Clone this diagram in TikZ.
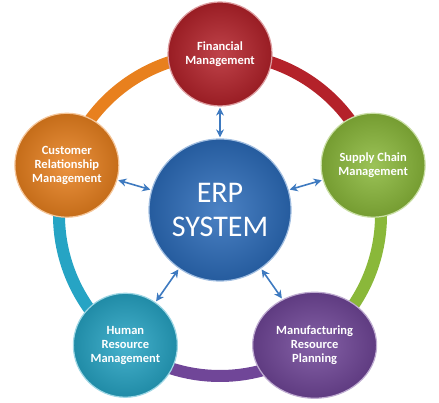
\documentclass[tikz,border=0pt]{standalone}
\usepackage{fontspec}
\setmainfont{Carlito}
\usetikzlibrary{positioning,shapes,arrows.meta}
\definecolor{finred}{RGB}{180,34,42}
\definecolor{supgreen}{RGB}{138,184,58}
\definecolor{mrppurple}{RGB}{112,70,152}
\definecolor{hrteal}{RGB}{38,164,196}
\definecolor{crmorange}{RGB}{232,128,30}
\definecolor{erpblue}{RGB}{44,108,186}
\definecolor{linkblue}{RGB}{62,122,192}

\begin{document}
\begin{tikzpicture}[x=1pt,y=1pt]
\tikzstyle{every node}+=[inner sep=0pt]
\tikzstyle{ring}=[line width=12pt, draw=#1]
\tikzstyle{bubble}=[circle, minimum size=104pt, shading=radial, inner color=#1!85!white, outer color=#1!85!black, draw=#1!45!white, line width=1.2pt, text=white, align=center, font=\bfseries\fontsize{12.5}{14}\selectfont]
\tikzstyle{link}=[{Stealth[length=8pt,width=8pt,inset=2.5pt]}-{Stealth[length=8pt,width=8pt,inset=2.5pt]}, draw=linkblue, line width=1.6pt, shorten >=1pt, shorten <=1pt]
\useasboundingbox (0,0) rectangle (439,403);
\coordinate (c) at (220,188);
\draw[ring=finred] (c) ++(90:161) arc (90:18:161);
\draw[ring=supgreen] (c) ++(18:161) arc (18:-54:161);
\draw[ring=mrppurple] (c) ++(-54:161) arc (-54:-126:161);
\draw[ring=hrteal] (c) ++(-126:161) arc (-126:-198:161);
\draw[ring=crmorange] (c) ++(162:161) arc (162:90:161);
\node[bubble=finred] (fin) at ([shift={(90:161)}]c) {Financial\\Management};
\node[bubble=supgreen] (sup) at ([shift={(18:161)}]c) {Supply Chain\\Management};
\node[bubble=mrppurple, ellipse, minimum width=124pt, minimum height=106pt] (mrp) at ([shift={(-54:161)}]c) {Manufacturing\\Resource\\Planning};
\node[bubble=hrteal] (hr) at ([shift={(-126:161)}]c) {Human\\Resource\\Management};
\node[bubble=crmorange] (crm) at ([shift={(162:161)}]c) {Customer\\Relationship\\Management};
\node[bubble=erpblue, minimum size=142pt, font=\fontsize{30}{34}\selectfont] (erp) at ([yshift=5pt]c) {ERP\\SYSTEM};
\draw[link] (erp) -- (fin);
\draw[link] (erp) -- (sup);
\draw[link] (erp) -- (mrp);
\draw[link] (erp) -- (hr);
\draw[link] (erp) -- (crm);
\end{tikzpicture}
\end{document}
